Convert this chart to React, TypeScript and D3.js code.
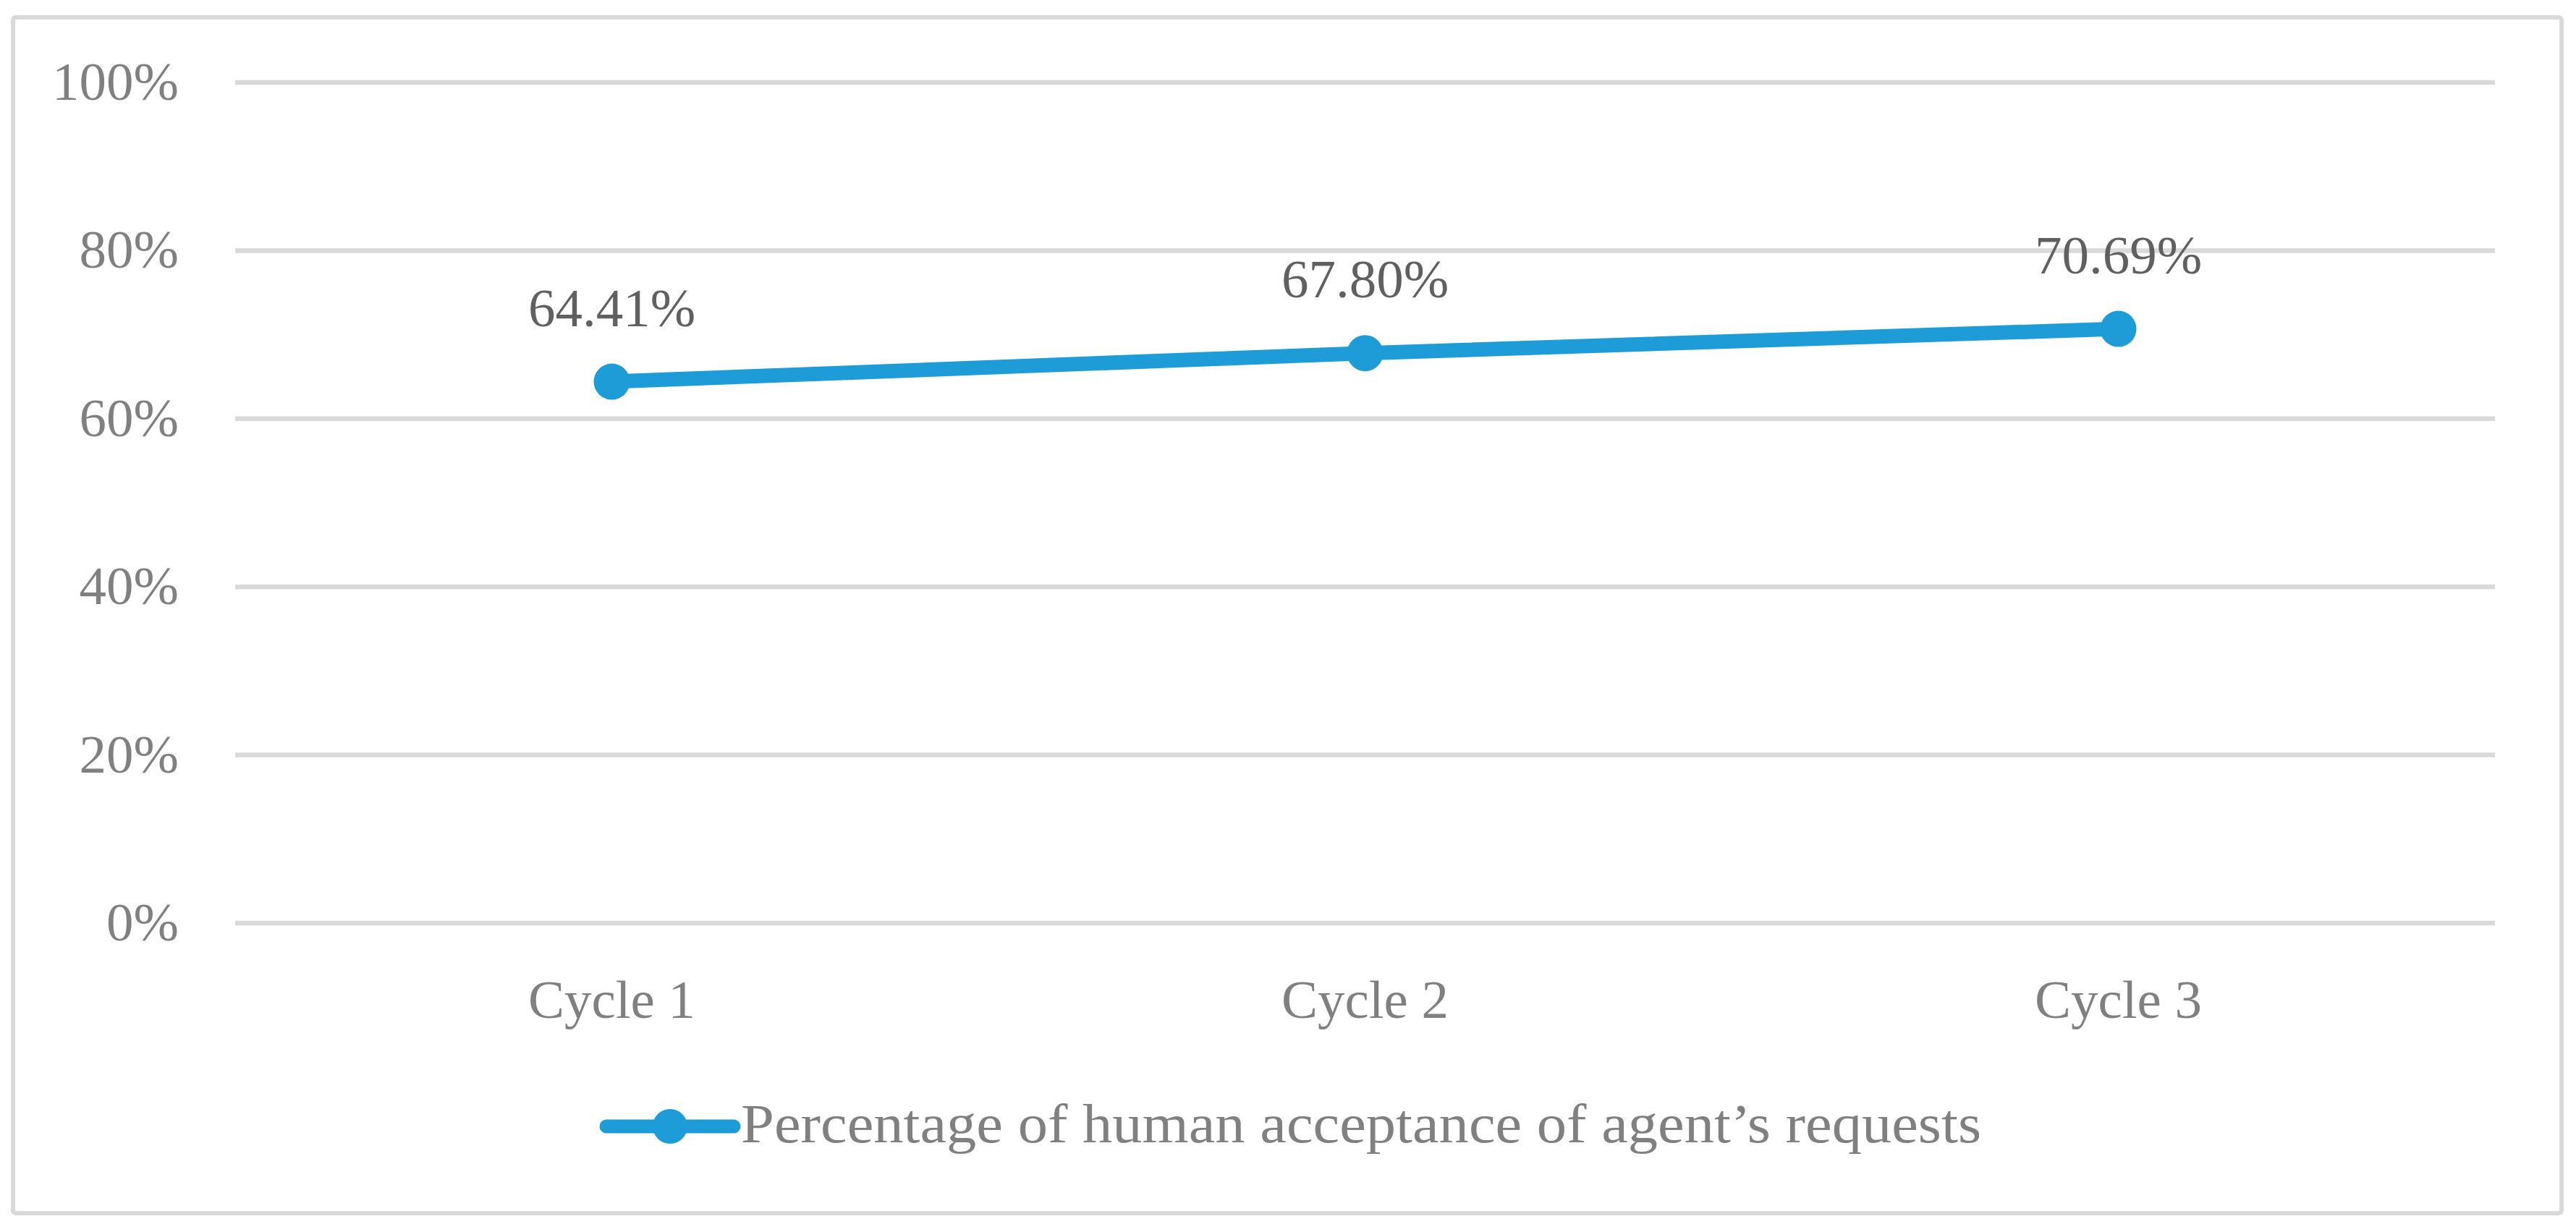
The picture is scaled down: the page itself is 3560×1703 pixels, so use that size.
import React from "react";
import * as d3 from "d3";

const categories: string[] = ["Cycle 1", "Cycle 2", "Cycle 3"];
const acceptance: number[] = [0.6441, 0.678, 0.7069];
const yTicks: number[] = [0, 0.2, 0.4, 0.6, 0.8, 1.0];
const seriesName = "Percentage of human acceptance of agent\u2019s requests";

const W = 3560;
const H = 1703;
const FONT = "'Palatino Linotype', 'Book Antiqua', Palatino, 'Liberation Serif', serif";
const BLUE = "#1E9CD7";
const GRID = "#D9D9D9";

export default function App() {
  const plotLeft = 325;
  const plotRight = 3448;
  const plotTop = 114;
  const plotBottom = 1276;

  const x = d3.scaleBand<string>().domain(categories).range([plotLeft, plotRight]).paddingInner(0).paddingOuter(0);
  const y = d3.scaleLinear().domain([0, 1]).range([plotBottom, plotTop]);
  const fmtTick = d3.format(".0%");
  const fmtVal = d3.format(".2%");

  const pts = categories.map((c, i) => ({ c, v: acceptance[i], px: (x(c) ?? 0) + x.bandwidth() / 2, py: y(acceptance[i]) }));
  const line = d3.line<{ px: number; py: number }>().x((d) => d.px).y((d) => d.py);

  const legendY = 1557;
  const legendX0 = 838;
  const legendX1 = 1014;

  return (
    <svg width={W} height={H} style={{ position: "absolute", left: 0, top: 0, display: "block", background: "#fff" }}>
      <rect x={18} y={24} width={3522} height={1653} rx={4} fill="#fff" stroke={GRID} strokeWidth={6} />
      {yTicks.map((t) => (
        <g key={t}>
          <line x1={plotLeft} x2={plotRight} y1={y(t)} y2={y(t)} stroke={GRID} strokeWidth={6.5} />
          <text x={247} y={y(t) + 24} textAnchor="end" fontFamily={FONT} fontSize={75} fill="#808080">
            {fmtTick(t)}
          </text>
        </g>
      ))}
      {categories.map((c) => (
        <text key={c} x={(x(c) ?? 0) + x.bandwidth() / 2} y={1407} textAnchor="middle" fontFamily={FONT} fontSize={75} fill="#808080">
          {c}
        </text>
      ))}
      <path d={line(pts) ?? ""} fill="none" stroke={BLUE} strokeWidth={20} strokeLinecap="round" strokeLinejoin="round" />
      {pts.map((p) => (
        <g key={p.c}>
          <circle cx={p.px} cy={p.py} r={25} fill={BLUE} />
          <text x={p.px} y={p.py - 77} textAnchor="middle" fontFamily={FONT} fontSize={75} fill="#606060">
            {fmtVal(p.v)}
          </text>
        </g>
      ))}
      <line x1={legendX0} x2={legendX1} y1={legendY} y2={legendY} stroke={BLUE} strokeWidth={19} strokeLinecap="round" />
      <circle cx={(legendX0 + legendX1) / 2} cy={legendY} r={24} fill={BLUE} />
      <text x={1024} y={1579} fontFamily={FONT} fontSize={76} fill="#808080" textLength={1714} lengthAdjust="spacingAndGlyphs">
        {seriesName}
      </text>
    </svg>
  );
}
